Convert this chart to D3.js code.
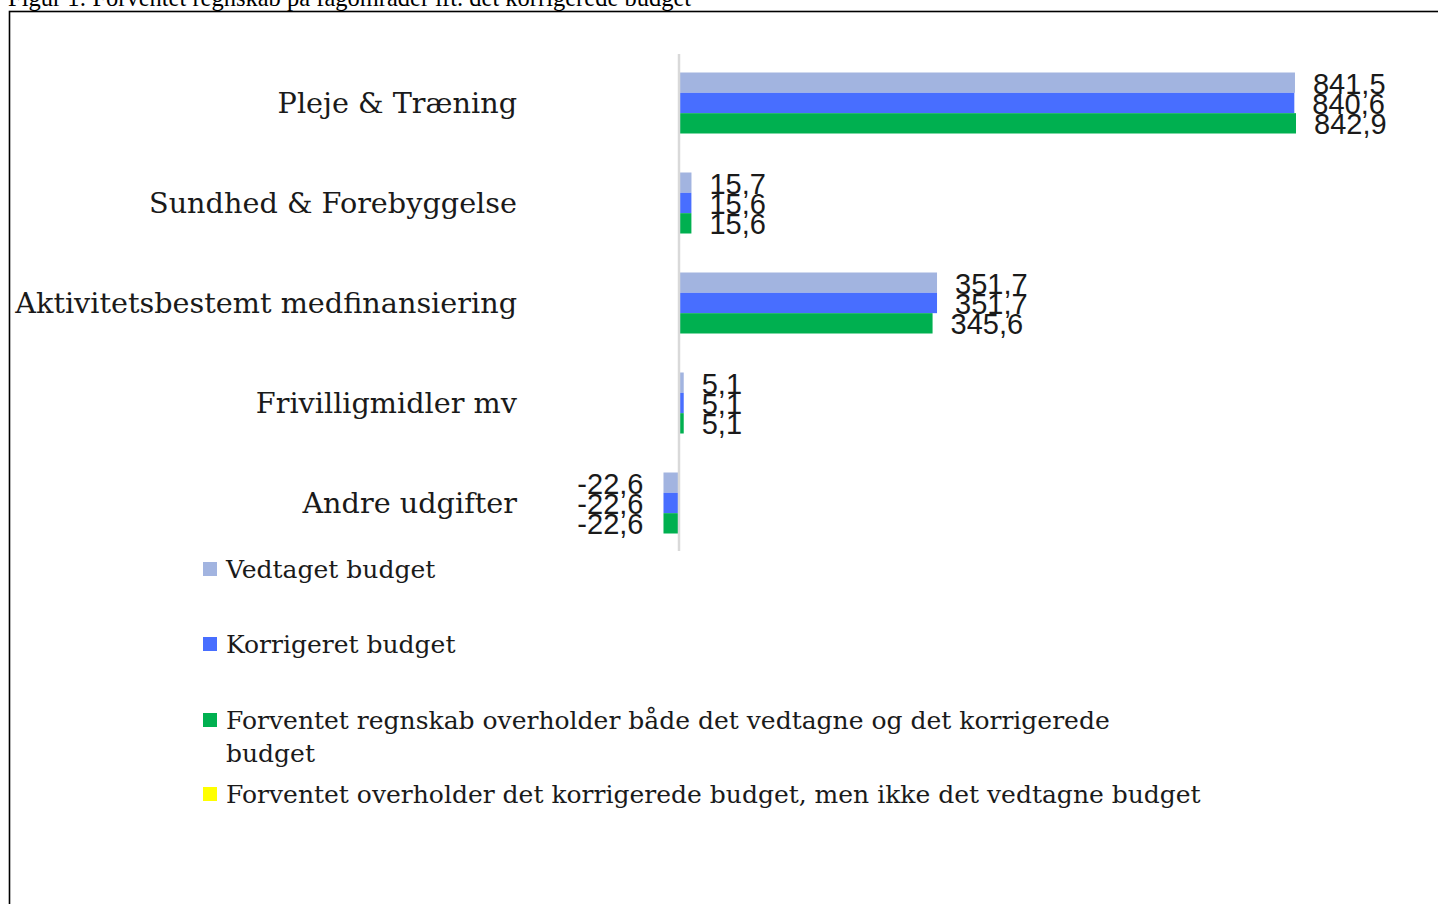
<!DOCTYPE html>
<html><head><meta charset="utf-8">
<script src="https://cdn.jsdelivr.net/npm/d3@7"></script>
<style>html,body{margin:0;padding:0;background:#fff;overflow:hidden}</style>
</head><body>
<script>
const categories = ["Pleje & Træning","Sundhed & Forebyggelse","Aktivitetsbestemt medfinansiering","Frivilligmidler mv","Andre udgifter"];
const seriesNames = ["Vedtaget budget","Korrigeret budget","Forventet regnskab overholder både det vedtagne og det korrigerede budget","Forventet overholder det korrigerede budget, men ikke det vedtagne budget"];
const vedtaget = [841.5, 15.7, 351.7, 5.1, -22.6];
const korrigeret = [840.6, 15.6, 351.7, 5.1, -22.6];
const forventet = [842.9, 15.6, 345.6, 5.1, -22.6];
const colors = ["#A2B4E0","#486EFF","#00B050","#FFFF00"];
const title = "Figur 1: Forventet regnskab på fagområder ift. det korrigerede budget";

const W = 1438, H = 904;
const svg = d3.select("body").append("svg").attr("width", W).attr("height", H);

svg.append("text").attr("x", 8).attr("y", 6)
  .attr("font-family", "Liberation Serif, Times New Roman, serif").attr("font-size", 24.5)
  .attr("fill", "#000").text(title);

svg.append("rect").attr("x", 9.5).attr("y", 11.5).attr("width", W + 20).attr("height", H + 20)
  .attr("fill", "none").attr("stroke", "#000").attr("stroke-width", 1.6);

const series = [vedtaget, korrigeret, forventet];
const x = d3.scaleLinear().domain([0, 842.9]).range([680, 1296]);
const y = d3.scaleBand().domain(categories).range([53, 553]).paddingInner(0.39).paddingOuter(0.195);
const ys = d3.scaleBand().domain([0,1,2]).range([0, y.bandwidth()]);

const serif = "DejaVu Serif, serif";
const sans = "Liberation Sans, Arial, sans-serif";

// bars
series.forEach((vals, si) => {
  svg.append("g").selectAll("rect").data(categories).join("rect")
    .attr("x", (c,i) => Math.min(x(0), x(vals[i])))
    .attr("width", (c,i) => Math.abs(x(vals[i]) - x(0)))
    .attr("y", c => y(c) + ys(si))
    .attr("height", ys.bandwidth())
    .attr("fill", colors[si]);
});

// axis line
svg.append("line").attr("x1", 679).attr("x2", 679).attr("y1", 54).attr("y2", 551)
  .attr("stroke", "#d9d9d9").attr("stroke-width", 2.5);

// value labels
const fmt = v => String(v).replace(".", ",");
series.forEach((vals, si) => {
  svg.append("g").selectAll("text").data(categories).join("text")
    .attr("x", (c,i) => vals[i] >= 0 ? x(vals[i]) + 18 : x(vals[i]) - 20)
    .attr("y", c => y(c) + ys(si) + ys.bandwidth()/2 + 1)
    .attr("text-anchor", (c,i) => vals[i] >= 0 ? "start" : "end")
    .attr("dominant-baseline", "central")
    .attr("font-family", sans).attr("font-size", 29).attr("fill", "#1a1a1a")
    .text((c,i) => fmt(vals[i]));
});

// category labels
svg.append("g").selectAll("text").data(categories).join("text")
  .attr("x", 517).attr("y", c => y(c) + y.bandwidth()/2)
  .attr("text-anchor", "end").attr("dominant-baseline", "central")
  .attr("font-family", serif).attr("font-size", 28.7).attr("fill", "#1a1a1a")
  .text(c => c);

// legend
const legendRows = [
  {lines:[seriesNames[0]], y:569},
  {lines:[seriesNames[1]], y:644},
  {lines:["Forventet regnskab overholder både det vedtagne og det korrigerede", "budget"], y:720},
  {lines:[seriesNames[3]], y:794}
];
const lg = svg.append("g");
legendRows.forEach((r, i) => {
  lg.append("rect").attr("x", 203).attr("y", r.y - 7).attr("width", 14).attr("height", 14).attr("fill", colors[i]);
  r.lines.forEach((t, j) => {
    lg.append("text").attr("x", 226).attr("y", r.y + j*33)
      .attr("dominant-baseline", "central")
      .attr("font-family", serif).attr("font-size", 25).attr("fill", "#1a1a1a").text(t);
  });
});
</script>
</body></html>
